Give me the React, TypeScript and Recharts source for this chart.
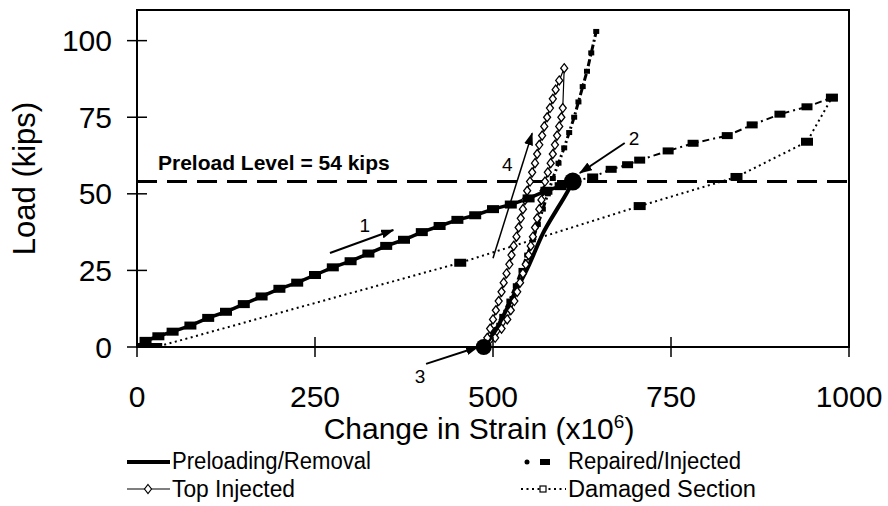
import React from "react";
import {
  LineChart,
  Line,
  XAxis,
  YAxis,
  ReferenceLine,
  ReferenceArea,
  ReferenceDot,
} from "recharts";

const FONT = "'Liberation Sans', Arial, Helvetica, sans-serif";

const xTicks = [0, 250, 500, 750, 1000];
const yTicks = [0, 25, 50, 75, 100];
const preloadLevel = 54;

// preloading branch (filled squares)
const preloadStrain = [0, 12, 30, 50, 75, 100, 125, 150, 175, 200, 225, 250, 275, 300, 325, 350, 375, 400, 425, 450, 475, 500, 525, 550, 575, 595, 612];
const preloadLoad = [0, 2, 3.5, 5, 7, 9.5, 11.5, 14, 16.5, 19, 21, 23.5, 26, 28, 30.5, 33, 35, 37.5, 39.5, 41.5, 43, 45, 46.5, 48.5, 51, 52.5, 54];

// removal of the preload
const removalStrain = [612, 603, 590, 570, 551, 527, 505, 487];
const removalLoad = [54, 50, 45, 37, 27, 16, 6, 0];

// top injected: up then back down
const topStrain = [487, 492, 496, 500, 504, 508, 512, 515, 519, 523, 526, 529, 533, 536, 539, 542, 545, 548, 552, 555, 559, 562, 565, 569, 572, 576, 580, 584, 588, 593, 600,
  598, 596, 593, 590, 587, 584, 581, 577, 573, 571, 568, 565, 562, 559, 556, 553, 550, 546, 542, 538, 534, 530, 525, 520, 512, 503, 492];
const topLoad = [0, 3, 6, 9, 12, 15, 18, 21, 24, 27, 30, 33, 36, 39, 42, 45, 48, 51, 54, 57, 60, 63, 66, 69, 72, 75, 78, 81, 84, 87, 91,
  78, 75, 72, 69, 66, 63, 60, 57, 54, 51, 48, 45, 42, 39, 36, 33, 30, 27, 24, 21, 18, 15, 12, 9, 6, 3, 0];

// repaired/injected, steep reloading branch
const repSteepStrain = [489, 500, 513, 523, 532, 540, 548, 556, 563, 570, 577, 584, 592, 600, 607, 614, 620, 626, 632, 638, 645];
const repSteepLoad = [0, 5, 10, 15, 20, 25, 30, 35, 40, 45, 50, 55, 60, 65, 70, 75, 80, 85, 90, 96, 103];

// repaired/injected from the preload point
const repStrain = [612, 640, 666, 689, 706, 746, 781, 829, 864, 903, 941, 976];
const repLoad = [54, 55.5, 58, 59.5, 61, 64, 66.5, 69, 72.5, 76, 78.4, 81.4];

// damaged section
const damStrain = [0, 13, 27, 454, 706, 842, 941, 976];
const damLoad = [0, 0, 0, 27.5, 46, 55.5, 67, 81.4];

const legendNames = ["Preloading/Removal", "Top Injected", "Repaired/Injected", "Damaged Section"];

const pts = (xs: number[], ys: number[]) => xs.map((x, i) => ({ x, y: ys[i] }));

const squareDot = (w: number, h: number) => (p: any) => {
  if (p.cx == null || p.cy == null) return <g key={`e${p.index}`} />;
  return (
    <rect
      key={`s${p.index}`}
      x={p.cx - w / 2}
      y={p.cy - h / 2}
      width={w}
      height={h}
      fill="#000"
    />
  );
};

const diamondDot = (p: any) => {
  if (p.cx == null || p.cy == null) return <g key={`e${p.index}`} />;
  const { cx, cy } = p;
  return (
    <path
      key={`d${p.index}`}
      d={`M${cx},${cy - 4.5}L${cx + 3.5},${cy}L${cx},${cy + 4.5}L${cx - 3.5},${cy}Z`}
      fill="#fff"
      stroke="#000"
      strokeWidth={1.3}
    />
  );
};

const XTick = (p: any) => (
  <g>
    <line x1={p.x} x2={p.x} y1={p.y - 48} y2={p.y - 28} stroke="#000" strokeWidth={1.5} />
    <text x={p.x} y={p.y} dy="0.72em" textAnchor="middle" fontSize={30} fontFamily={FONT} fill="#000">
      {p.payload.value}
    </text>
  </g>
);

const YTick = (p: any) => (
  <g>
    <line x1={p.x + 15} x2={p.x + 35} y1={p.y} y2={p.y} stroke="#000" strokeWidth={1.5} />
    <text x={p.x} y={p.y} dy="0.355em" textAnchor="end" fontSize={30} fontFamily={FONT} fill="#000">
      {p.payload.value}
    </text>
  </g>
);

const xTitle = (p: any) => {
  const vb = p.viewBox ?? { x: 137, y: 347, width: 712, height: 159 };
  return (
    <text x={vb.x + vb.width / 2 - 14} y={vb.y + 92} textAnchor="middle" fontSize={30} fontFamily={FONT} fill="#000">
      Change in Strain (x10
      <tspan dy={-11} fontSize={19}>6</tspan>
      <tspan dy={11}>)</tspan>
    </text>
  );
};

const yTitle = (p: any) => {
  const vb = p.viewBox ?? { x: 0, y: 10, width: 137, height: 337 };
  const cx = vb.x + 35;
  const cy = vb.y + vb.height / 2;
  return (
    <text x={cx} y={cy} transform={`rotate(-90 ${cx} ${cy})`} textAnchor="middle" fontSize={31} fontFamily={FONT} fill="#000">
      Load (kips)
    </text>
  );
};

const numLabel = (v: string) => ({
  value: v,
  position: "center" as const,
  fontSize: 19,
  fontFamily: FONT,
  fill: "#000",
});

// legend text is a condensed face in the original; squeeze regular glyphs
const LegendText = ({ x, y, w, children }: any) => (
  <text x={x} y={y} textLength={w} lengthAdjust="spacingAndGlyphs">
    {children}
  </text>
);

export default function App() {
  return (
    <div style={{ position: "absolute", left: 0, top: 0, width: 888, height: 506, background: "#fff" }}>
      <LineChart width={888} height={506} margin={{ top: 10, right: 39, left: 0, bottom: 0 }}>
        <XAxis
          dataKey="x"
          type="number"
          domain={[0, 1000]}
          ticks={xTicks}
          allowDataOverflow
          height={159}
          tickSize={10}
          tickMargin={28}
          tickLine={false}
          tick={<XTick />}
          axisLine={{ stroke: "#000", strokeWidth: 2 }}
          label={xTitle}
        />
        <YAxis
          type="number"
          domain={[0, 110]}
          ticks={yTicks}
          allowDataOverflow
          width={137}
          tickSize={10}
          tickMargin={15}
          tickLine={false}
          tick={<YTick />}
          axisLine={{ stroke: "#000", strokeWidth: 2 }}
          label={yTitle}
        />
        <ReferenceArea x1={0} x2={1000} y1={0} y2={110} fill="none" fillOpacity={0} stroke="#000" strokeWidth={2} />
        <ReferenceLine
          y={preloadLevel}
          stroke="#000"
          strokeWidth={3}
          strokeDasharray="20 10"
        />
        <ReferenceDot
          x={29.5}
          y={60.2}
          r={0}
          fill="none"
          stroke="none"
          label={{ value: "Preload Level = 54  kips", position: "right", offset: 0, fontSize: 21, fontWeight: "bold", fontFamily: FONT, fill: "#000" }}
        />

        <Line data={pts(damStrain, damLoad)} dataKey="y" type="linear" stroke="#000" strokeWidth={2} strokeDasharray="2 3.5" dot={squareDot(12, 8)} isAnimationActive={false} />
        <Line data={pts(repStrain, repLoad)} dataKey="y" type="linear" stroke="#000" strokeWidth={2} strokeDasharray="7 4 2 4" dot={squareDot(11, 7)} isAnimationActive={false} />
        <Line data={pts(repSteepStrain, repSteepLoad)} dataKey="y" type="linear" stroke="#000" strokeWidth={3} strokeDasharray="7 3 2 3" dot={squareDot(6, 5)} isAnimationActive={false} />
        <Line data={pts(topStrain, topLoad)} dataKey="y" type="linear" stroke="#000" strokeWidth={1.2} dot={diamondDot} isAnimationActive={false} />
        <Line data={pts(removalStrain, removalLoad)} dataKey="y" type="monotone" stroke="#000" strokeWidth={4} dot={false} isAnimationActive={false} />
        <Line data={pts(preloadStrain, preloadLoad)} dataKey="y" type="linear" stroke="#000" strokeWidth={3.5} dot={squareDot(12, 8)} isAnimationActive={false} />

        <ReferenceDot x={612} y={54} r={9} fill="#000" stroke="none" ifOverflow="visible" />
        <ReferenceDot x={487} y={0} r={8} fill="#000" stroke="none" ifOverflow="visible" />

        <ReferenceLine segment={[{ x: 271, y: 30.7 }, { x: 360, y: 38.2 }]} stroke="#000" strokeWidth={2} markerEnd="url(#arrowHead)" ifOverflow="visible" />
        <ReferenceLine segment={[{ x: 685, y: 66.6 }, { x: 622, y: 56.8 }]} stroke="#000" strokeWidth={2} markerEnd="url(#arrowHead)" ifOverflow="visible" />
        <ReferenceLine segment={[{ x: 406, y: -5.5 }, { x: 479, y: 0 }]} stroke="#000" strokeWidth={2} markerEnd="url(#arrowHead)" ifOverflow="visible" />
        <ReferenceLine segment={[{ x: 500, y: 29 }, { x: 555, y: 69.8 }]} stroke="#000" strokeWidth={1.5} markerEnd="url(#arrowHead)" ifOverflow="visible" />
        <ReferenceDot x={320} y={39.8} r={0} fill="none" stroke="none" ifOverflow="visible" label={numLabel("1")} />
        <ReferenceDot x={698} y={68.2} r={0} fill="none" stroke="none" ifOverflow="visible" label={numLabel("2")} />
        <ReferenceDot x={397.5} y={-9.5} r={0} fill="none" stroke="none" ifOverflow="visible" label={numLabel("3")} />
        <ReferenceDot x={520} y={59.7} r={0} fill="none" stroke="none" ifOverflow="visible" label={numLabel("4")} />
      </LineChart>

      <svg width={888} height={506} style={{ position: "absolute", left: 0, top: 0, pointerEvents: "none" }}>
        <defs>
          <marker id="arrowHead" viewBox="0 0 13 9" refX={12} refY={4.5} markerWidth={13} markerHeight={9} markerUnits="userSpaceOnUse" orient="auto">
            <path d="M0,0L13,4.5L0,9Z" fill="#000" />
          </marker>
        </defs>
        <g fontFamily={FONT} fontSize={23} fill="#000">
          <line x1={127} x2={170} y1={462} y2={462} stroke="#000" strokeWidth={4} />
          <LegendText x={172} y={469} w={199}>{legendNames[0]}</LegendText>

          <line x1={127} x2={170} y1={489} y2={489} stroke="#000" strokeWidth={1.2} />
          <path d="M148,484.5L151.5,489L148,493.5L144.5,489Z" fill="#fff" stroke="#000" strokeWidth={1.2} />
          <LegendText x={172} y={497} w={123}>{legendNames[1]}</LegendText>

          <circle cx={527} cy={462} r={2.5} fill="#000" />
          <rect x={540} y={459} width={10} height={6} fill="#000" />
          <LegendText x={568} y={469} w={173}>{legendNames[2]}</LegendText>

          <line x1={521} x2={566} y1={489} y2={489} stroke="#000" strokeWidth={2} strokeDasharray="2 3.5" />
          <rect x={540} y={486} width={6} height={6} fill="#fff" stroke="#000" strokeWidth={1.2} />
          <LegendText x={568} y={497} w={188}>{legendNames[3]}</LegendText>
        </g>
      </svg>
    </div>
  );
}
